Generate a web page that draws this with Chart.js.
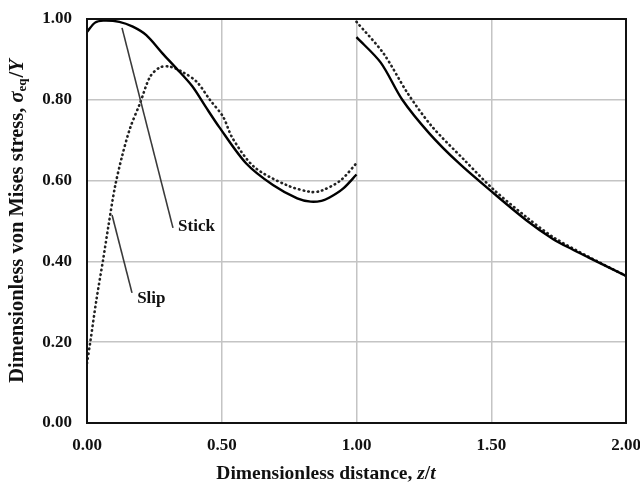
<!DOCTYPE html>
<html>
<head>
<meta charset="utf-8">
<script src="https://cdn.jsdelivr.net/npm/chart.js@4.4.1/dist/chart.umd.min.js"></script>
<style>
  html, body { margin: 0; padding: 0; background: #fff; }
  #wrap { width: 640px; height: 487px; }
</style>
</head>
<body>
<div id="wrap"><canvas id="myChart" width="640" height="487"></canvas></div>
<script>
'use strict';

// ******* DATA *******
// stick condition, before and after the interface at z/t = 1
let stickX1 = [0, 0.03, 0.06, 0.12, 0.17, 0.22, 0.28, 0.33, 0.39, 0.44, 0.49, 0.59, 0.69, 0.78, 0.83, 0.87, 0.90, 0.95, 1.0];
let stickY1 = [0.968, 0.991, 0.996, 0.993, 0.981, 0.960, 0.915, 0.879, 0.834, 0.783, 0.733, 0.643, 0.589, 0.556, 0.548, 0.550, 0.558, 0.580, 0.615];
let stickX2 = [1.0, 1.09, 1.17, 1.27, 1.38, 1.51, 1.63, 1.73, 1.80, 1.86, 2.0];
let stickY2 = [0.955, 0.892, 0.800, 0.717, 0.643, 0.568, 0.502, 0.455, 0.430, 0.410, 0.364];

// slip condition
let slipX1 = [0, 0.012, 0.035, 0.06, 0.08, 0.104, 0.13, 0.16, 0.197, 0.234, 0.27, 0.308, 0.357, 0.408, 0.456, 0.505, 0.54, 0.62, 0.74, 0.83, 0.87, 0.94, 1.0];
let slipY1 = [0.148, 0.200, 0.305, 0.405, 0.490, 0.585, 0.660, 0.730, 0.792, 0.857, 0.880, 0.882, 0.868, 0.844, 0.800, 0.758, 0.705, 0.634, 0.589, 0.572, 0.575, 0.600, 0.643];
let slipX2 = [1.0, 1.10, 1.19, 1.28, 1.40, 1.51, 1.63, 1.73, 1.86, 2.0];
let slipY2 = [0.993, 0.915, 0.816, 0.734, 0.651, 0.577, 0.510, 0.460, 0.412, 0.364];

let xTicks = [0, 0.5, 1.0, 1.5, 2.0];
let yTicks = [0, 0.2, 0.4, 0.6, 0.8, 1.0];

// label + leader line, [text, fromX, fromY, toX, toY, textX, textY]
let stickNote = ['Stick', 0.13, 0.978, 0.319, 0.483, 0.338, 0.485];
let slipNote = ['Slip', 0.093, 0.515, 0.167, 0.322, 0.186, 0.309];

// ******* HELPERS *******
function toPoints(xs, ys) {
  let pts = [];
  for (let i = 0; i < xs.length; i++) {
    pts.push({ x: xs[i], y: ys[i] });
  }
  return pts;
}

const SERIF = '"Liberation Serif", "Times New Roman", serif';

// draw a run of text pieces with their own fonts, centered at 0,0
function drawRuns(ctx, runs) {
  let total = 0;
  for (let r of runs) {
    ctx.font = r.font;
    r.w = ctx.measureText(r.text).width;
    total += r.w + (r.gap || 0);
  }
  let x = -total / 2;
  for (let r of runs) {
    ctx.font = r.font;
    ctx.fillText(r.text, x, r.dy || 0);
    x += r.w + (r.gap || 0);
  }
}

// ******* PLUGIN: frame, axis titles, notes *******
const extras = {
  id: 'extras',
  afterDatasetsDraw(chart) {
    const { ctx, chartArea: a, scales } = chart;
    const xs = scales.x, ys = scales.y;

    // leader lines and labels
    ctx.save();
    ctx.strokeStyle = '#3a3a3a';
    ctx.lineWidth = 1.6;
    ctx.fillStyle = '#111';
    ctx.font = 'bold 17px ' + SERIF;
    ctx.textBaseline = 'middle';
    for (let n of [stickNote, slipNote]) {
      ctx.beginPath();
      ctx.moveTo(xs.getPixelForValue(n[1]), ys.getPixelForValue(n[2]));
      ctx.lineTo(xs.getPixelForValue(n[3]), ys.getPixelForValue(n[4]));
      ctx.stroke();
      ctx.fillText(n[0], xs.getPixelForValue(n[5]), ys.getPixelForValue(n[6]));
    }
    ctx.restore();

    // frame
    ctx.save();
    ctx.strokeStyle = '#111';
    ctx.lineWidth = 2;
    ctx.strokeRect(a.left, a.top, a.right - a.left, a.bottom - a.top);
    ctx.restore();
  },
  afterDraw(chart) {
    const { ctx, chartArea: a } = chart;
    ctx.save();
    ctx.fillStyle = '#111';
    ctx.textBaseline = 'alphabetic';

    // x title
    let b = 'bold 19.5px ' + SERIF;
    let bi = 'italic bold 19.5px ' + SERIF;
    ctx.save();
    ctx.translate(a.left + 239, 479);
    drawRuns(ctx, [
      { text: 'Dimensionless distance, ', font: b },
      { text: 'z', font: bi },
      { text: '/', font: b },
      { text: 't', font: bi }
    ]);
    ctx.restore();

    // y title
    b = 'bold 20.5px ' + SERIF;
    bi = 'italic bold 20.5px ' + SERIF;
    let sub = 'bold 13px ' + SERIF;
    ctx.save();
    ctx.translate(23, 221);
    ctx.rotate(-Math.PI / 2);
    drawRuns(ctx, [
      { text: 'Dimensionless von Mises stress, ', font: b },
      { text: '\u03c3', font: bi },
      { text: 'eq', font: sub, dy: 3, gap: 1 },
      { text: '/', font: b },
      { text: 'Y', font: bi }
    ]);
    ctx.restore();

    ctx.restore();
  }
};

// ******* CHART *******
let canvasElem = document.getElementById('myChart').getContext('2d');

let solid = { borderColor: '#000', borderWidth: 2.4, pointRadius: 0, tension: 0.3, fill: false };
let dotted = { borderColor: '#222', borderWidth: 2.6, borderDash: [0.5, 4.2], borderCapStyle: 'round', pointRadius: 0, tension: 0.3, fill: false };

let myChartObj = {
  type: 'line',
  data: {
    datasets: [
      Object.assign({ label: 'Stick', data: toPoints(stickX1, stickY1) }, solid),
      Object.assign({ label: 'Stick 2', data: toPoints(stickX2, stickY2) }, solid),
      Object.assign({ label: 'Slip', data: toPoints(slipX1, slipY1) }, dotted),
      Object.assign({ label: 'Slip 2', data: toPoints(slipX2, slipY2) }, dotted)
    ]
  },
  options: {
    responsive: false,
    animation: false,
    layout: { padding: { top: 19, right: 14, left: 0, bottom: 0 } },
    plugins: {
      legend: { display: false },
      tooltip: { enabled: false }
    },
    scales: {
      x: {
        type: 'linear',
        min: 0,
        max: 2,
        afterBuildTicks(scale) {
          scale.ticks = xTicks.map(v => ({ value: v }));
        },
        afterFit(scale) {
          scale.height = 64;
          scale.paddingLeft = 0;
          scale.paddingRight = 0;
        },
        grid: { color: '#c4c4c4', lineWidth: 1.5, drawTicks: false },
        border: { display: false },
        ticks: {
          padding: 12,
          maxRotation: 0,
          autoSkip: false,
          color: '#111',
          font: { family: SERIF, size: 17, weight: 'bold' },
          callback: v => v.toFixed(2)
        }
      },
      y: {
        min: 0,
        max: 1,
        afterBuildTicks(scale) {
          scale.ticks = yTicks.map(v => ({ value: v }));
        },
        afterFit(scale) {
          scale.width = 87;
          scale.paddingTop = 0;
          scale.paddingBottom = 0;
        },
        grid: { color: '#c4c4c4', lineWidth: 1.5, drawTicks: false },
        border: { display: false },
        ticks: {
          padding: 15,
          color: '#111',
          font: { family: SERIF, size: 17, weight: 'bold' },
          callback: v => v.toFixed(2)
        }
      }
    }
  },
  plugins: [extras]
};

new Chart(canvasElem, myChartObj);
</script>
</body>
</html>
